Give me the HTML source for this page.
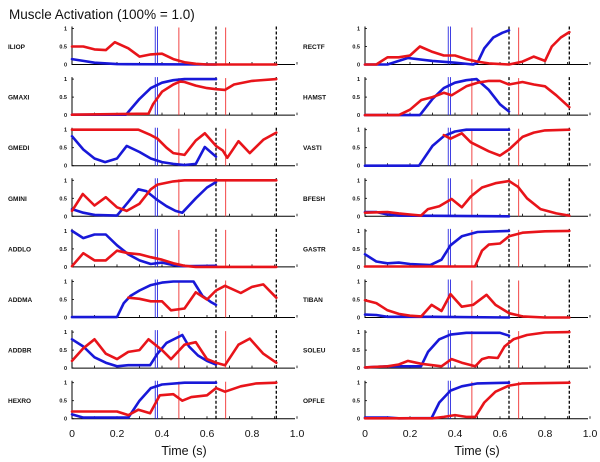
<!DOCTYPE html>
<html><head><meta charset="utf-8"><style>
html,body{margin:0;padding:0;background:#fff;}
svg{display:block;font-family:"Liberation Sans",sans-serif;}
</style></head><body>
<svg id="chart" width="600" height="462" viewBox="0 0 600 462" xmlns="http://www.w3.org/2000/svg">
<text x="9" y="19" font-size="13.5" fill="#111">Muscle Activation (100% = 1.0)</text>
<g id="panels"></g>
</svg>
<script>
const musclesLeft = ["ILIOP","GMAXI","GMEDI","GMINI","ADDLO","ADDMA","ADDBR","HEXRO"];
const musclesRight = ["RECTF","HAMST","VASTI","BFESH","GASTR","TIBAN","SOLEU","OPFLE"];
const xTickLabels = ["0","0.2","0.4","0.6","0.8","1.0"];
const yTickLabels = ["0","0.5","1"];
const eventBlue = [0.37,0.38];
const eventRed = [0.475,0.683];
const eventDashed = [0.64,0.908];

// blue series [t, v] per muscle
const blueSeries = {
ILIOP:[[0,0.15],[0.05,0.1],[0.1,0.05],[0.2,0.01],[0.64,0]],
GMAXI:[[0,0.01],[0.24,0.01],[0.3,0.45],[0.35,0.75],[0.4,0.9],[0.45,0.97],[0.5,1],[0.64,1]],
GMEDI:[[0,0.82],[0.05,0.45],[0.1,0.2],[0.147,0.1],[0.2,0.2],[0.243,0.55],[0.3,0.38],[0.35,0.2],[0.4,0.1],[0.45,0.05],[0.5,0.02],[0.55,0.05],[0.59,0.52],[0.64,0.25]],
GMINI:[[0,0.2],[0.05,0.1],[0.1,0.04],[0.2,0.02],[0.25,0.4],[0.295,0.75],[0.33,0.7],[0.38,0.45],[0.42,0.28],[0.46,0.15],[0.49,0.1],[0.55,0.5],[0.6,0.8],[0.64,0.95]],
ADDLO:[[0,1],[0.05,0.8],[0.1,0.9],[0.15,0.9],[0.2,0.6],[0.25,0.35],[0.3,0.18],[0.35,0.08],[0.4,0.12],[0.45,0.05],[0.5,0.02],[0.64,0.03]],
ADDMA:[[0,0.01],[0.2,0.01],[0.23,0.4],[0.26,0.6],[0.3,0.75],[0.35,0.9],[0.4,0.97],[0.45,1],[0.54,1],[0.58,0.6],[0.62,0.42],[0.64,0.35]],
ADDBR:[[0,0.8],[0.05,0.6],[0.1,0.3],[0.15,0.15],[0.2,0.05],[0.25,0.08],[0.347,0.08],[0.38,0.4],[0.42,0.7],[0.49,0.92],[0.52,0.6],[0.56,0.35],[0.6,0.2],[0.64,0.1]],
HEXRO:[[0,0.12],[0.05,0.03],[0.25,0.03],[0.3,0.5],[0.35,0.85],[0.4,0.95],[0.5,1],[0.64,1]],
RECTF:[[0,0],[0.1,0],[0.19,0.18],[0.3,0.1],[0.4,0.05],[0.48,0],[0.5,0.05],[0.53,0.45],[0.57,0.75],[0.61,0.88],[0.64,0.95]],
HAMST:[[0,0],[0.244,0],[0.3,0.45],[0.35,0.75],[0.4,0.9],[0.45,0.97],[0.496,1],[0.55,0.7],[0.6,0.3],[0.64,0.1]],
VASTI:[[0,0],[0.24,0],[0.3,0.55],[0.35,0.82],[0.4,0.95],[0.45,1],[0.64,1]],
BFESH:[[0,0.12],[0.05,0.12],[0.1,0.05],[0.15,0.02],[0.64,0]],
GASTR:[[0,0.35],[0.05,0.15],[0.1,0.1],[0.15,0.12],[0.2,0.08],[0.29,0.05],[0.34,0.2],[0.38,0.6],[0.43,0.85],[0.5,0.97],[0.64,1]],
TIBAN:[[0,0.08],[0.05,0.07],[0.1,0.02],[0.3,0.02],[0.64,0]],
SOLEU:[[0,0.02],[0.1,0.05],[0.249,0.05],[0.28,0.45],[0.33,0.8],[0.38,0.93],[0.45,0.98],[0.6,0.98],[0.64,0.9]],
OPFLE:[[0,0.03],[0.1,0.03],[0.15,0.01],[0.296,0.02],[0.33,0.45],[0.38,0.78],[0.43,0.9],[0.5,0.98],[0.64,1]]
};
// red series [t, v] per muscle
const redSeries = {
ILIOP:[[0,0.5],[0.05,0.5],[0.1,0.42],[0.15,0.4],[0.19,0.62],[0.25,0.45],[0.3,0.22],[0.35,0.28],[0.4,0.3],[0.45,0.15],[0.5,0.06],[0.55,0.02],[0.6,0],[0.908,0]],
GMAXI:[[0,0.01],[0.34,0.04],[0.36,0.3],[0.4,0.65],[0.45,0.85],[0.48,0.93],[0.5,0.92],[0.55,0.82],[0.6,0.75],[0.64,0.72],[0.68,0.7],[0.72,0.85],[0.8,0.95],[0.908,1]],
GMEDI:[[0,1],[0.295,1],[0.35,0.85],[0.38,0.75],[0.42,0.5],[0.45,0.35],[0.5,0.3],[0.55,0.7],[0.59,0.9],[0.64,0.55],[0.67,0.42],[0.69,0.22],[0.74,0.68],[0.79,0.35],[0.85,0.72],[0.908,0.92]],
GMINI:[[0,0.15],[0.048,0.62],[0.1,0.3],[0.15,0.53],[0.2,0.25],[0.243,0.15],[0.3,0.35],[0.35,0.75],[0.38,0.88],[0.45,0.97],[0.5,1],[0.908,1]],
ADDLO:[[0,0.02],[0.05,0.38],[0.1,0.18],[0.15,0.18],[0.2,0.45],[0.25,0.38],[0.3,0.35],[0.35,0.27],[0.4,0.2],[0.45,0.1],[0.5,0.03],[0.55,0],[0.908,0]],
ADDMA:[[0.25,0.55],[0.3,0.52],[0.35,0.45],[0.4,0.45],[0.44,0.2],[0.5,0.25],[0.55,0.7],[0.6,0.5],[0.64,0.75],[0.68,0.88],[0.75,0.68],[0.8,0.85],[0.85,0.92],[0.908,0.55]],
ADDBR:[[0,0.2],[0.05,0.55],[0.1,0.8],[0.15,0.4],[0.2,0.25],[0.25,0.45],[0.3,0.5],[0.34,0.8],[0.4,0.5],[0.44,0.25],[0.5,0.65],[0.55,0.72],[0.6,0.25],[0.64,0.15],[0.68,0.08],[0.74,0.65],[0.79,0.82],[0.85,0.4],[0.908,0.15]],
HEXRO:[[0,0.2],[0.2,0.2],[0.25,0.1],[0.295,0.25],[0.347,0.15],[0.39,0.65],[0.45,0.68],[0.49,0.5],[0.53,0.6],[0.6,0.65],[0.64,0.85],[0.68,0.75],[0.75,0.9],[0.82,0.98],[0.908,1]],
RECTF:[[0,0],[0.05,0],[0.1,0.2],[0.15,0.2],[0.2,0.25],[0.244,0.5],[0.3,0.35],[0.35,0.25],[0.4,0.25],[0.45,0.15],[0.5,0.08],[0.55,0.03],[0.64,0],[0.7,0.08],[0.75,0.22],[0.8,0.1],[0.83,0.5],[0.87,0.75],[0.908,0.9]],
HAMST:[[0,0],[0.15,0],[0.2,0.15],[0.25,0.42],[0.3,0.5],[0.35,0.62],[0.385,0.55],[0.45,0.8],[0.5,0.9],[0.55,0.95],[0.6,0.95],[0.64,0.85],[0.7,0.92],[0.75,0.85],[0.8,0.8],[0.85,0.55],[0.908,0.22]],
VASTI:[[0.35,0.85],[0.38,0.75],[0.43,0.9],[0.47,0.65],[0.55,0.4],[0.6,0.28],[0.64,0.45],[0.7,0.8],[0.75,0.92],[0.8,0.98],[0.908,1]],
BFESH:[[0,0.1],[0.1,0.12],[0.15,0.08],[0.2,0.05],[0.249,0.02],[0.28,0.2],[0.33,0.28],[0.385,0.48],[0.43,0.25],[0.47,0.55],[0.52,0.8],[0.58,0.92],[0.64,0.98],[0.68,0.82],[0.72,0.5],[0.78,0.2],[0.85,0.08],[0.908,0.02]],
GASTR:[[0,0.01],[0.489,0.01],[0.52,0.45],[0.55,0.62],[0.6,0.65],[0.64,0.85],[0.7,0.95],[0.8,0.99],[0.908,1]],
TIBAN:[[0,0.48],[0.05,0.4],[0.1,0.2],[0.15,0.1],[0.2,0.05],[0.25,0.03],[0.296,0.35],[0.34,0.18],[0.38,0.65],[0.43,0.3],[0.48,0.35],[0.54,0.63],[0.58,0.35],[0.64,0.12],[0.7,0.03],[0.8,0],[0.908,0]],
SOLEU:[[0,0.02],[0.1,0.05],[0.15,0.1],[0.19,0.2],[0.25,0.12],[0.34,0.05],[0.385,0.25],[0.43,0.15],[0.49,0.05],[0.52,0.25],[0.55,0.3],[0.59,0.28],[0.62,0.6],[0.66,0.8],[0.72,0.92],[0.8,0.99],[0.908,1]],
OPFLE:[[0,0.01],[0.3,0.01],[0.35,0.05],[0.4,0.1],[0.45,0.05],[0.49,0.05],[0.53,0.45],[0.58,0.75],[0.64,0.92],[0.7,0.98],[0.908,1]]
};

const NS="http://www.w3.org/2000/svg";
const root=document.getElementById('panels');
function mk(tag,attrs,parent){const e=document.createElementNS(NS,tag);for(const k in attrs)e.setAttribute(k,attrs[k]);(parent||root).appendChild(e);return e;}

function drawPanel(name,col,row){
  const x0 = col===0?72:365;
  const scaleX=225, H=36;
  const y1 = 28.5+row*50.6, y0=y1+H;
  const xs=t=>x0+t*scaleX, ys=v=>y0-v*H;
  const g=mk('g',{});
  
  
  const lab=mk('text',{x:col===0?8:303,y:(y1+y0)/2+2.5,'font-size':6.5,'font-weight':'bold',fill:'#111'},g);
  lab.textContent=name;
  
  
  yTickLabels.forEach(s=>{
    const v=parseFloat(s);
    const t=mk('text',{x:x0-5,y:ys(v)+2,'font-size':5.5,'font-weight':'bold','text-anchor':'end',fill:'#111'},g);
    t.textContent=s;
    
    
    mk('line',{x1:x0,x2:x0+2,y1:ys(v),y2:ys(v),stroke:'#000','stroke-width':0.8},g);
  });
  const ax=mk('path',{d:`M${x0},${y1-2}V${y0}H${x0+223}`,fill:'none',stroke:'#000','stroke-width':1},g);
  
  
  for(let i=1;i<=10;i++){mk('line',{x1:xs(i/10),x2:xs(i/10),y1:y0,y2:y0-2.5,stroke:'#000','stroke-width':0.8},g);}
  eventBlue.forEach(t=>{const l=mk('line',{x1:xs(t),x2:xs(t),y1:y1-2,y2:y0,stroke:'#2a2ae0','stroke-width':0.9},g);
    });
  eventRed.forEach(t=>{const l=mk('line',{x1:xs(t),x2:xs(t),y1:y1-1,y2:y0,stroke:'#f03030','stroke-width':0.9},g);
    });
  eventDashed.forEach(t=>{const l=mk('line',{x1:xs(t),x2:xs(t),y1:y1-2,y2:y0,stroke:'#000','stroke-width':1.3,'stroke-dasharray':'3,2'},g);
    });
  const bp=mk('path',{d:'M'+blueSeries[name].map(p=>xs(p[0]).toFixed(1)+','+ys(p[1]).toFixed(1)).join('L'),fill:'none',stroke:'#1818d8','stroke-width':2.6,'stroke-linejoin':'round','stroke-linecap':'round'},g);
  
  
  const rp=mk('path',{d:'M'+redSeries[name].map(p=>xs(p[0]).toFixed(1)+','+ys(p[1]).toFixed(1)).join('L'),fill:'none',stroke:'#e8141a','stroke-width':2.6,'stroke-linejoin':'round','stroke-linecap':'round'},g);
  
  
}
musclesLeft.forEach((m,i)=>drawPanel(m,0,i));
musclesRight.forEach((m,i)=>drawPanel(m,1,i));
[72,365].forEach((x0,c)=>{
  xTickLabels.forEach(s=>{
    const t=mk('text',{x:x0+parseFloat(s)*225,y:437,'font-size':10.5,'text-anchor':'middle',fill:'#111'});
    t.textContent=s;
    
    
  });
  const tt=mk('text',{x:x0+112,y:455,'font-size':12.5,'text-anchor':'middle',fill:'#111'});
  tt.textContent='Time (s)';
  
  
});
</script>
</body></html>
